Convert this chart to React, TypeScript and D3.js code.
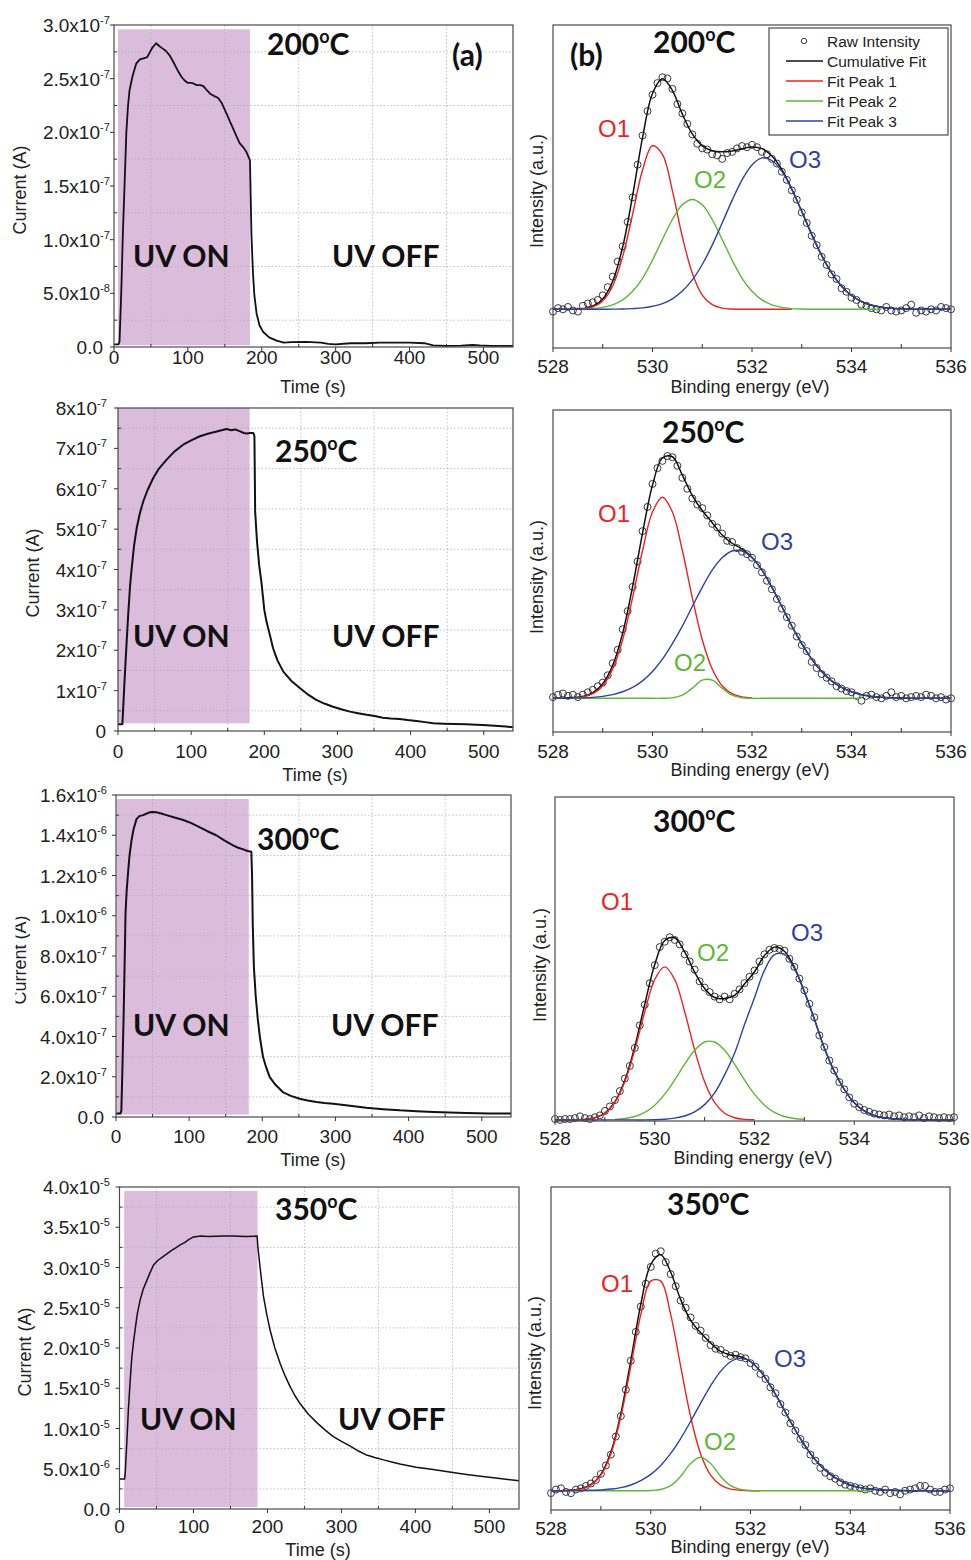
import * as d3 from "d3";

const SANS = "'Liberation Sans', Arial, sans-serif";
const BOLD = "Lato, 'Open Sans', sans-serif";

// ---------- (a) photocurrent transients, time in s ----------
const time200 = [0, 6, 7.5, 10, 12, 14.5, 16.7, 19, 21, 25, 30, 35, 40, 45, 48, 52, 57, 62, 66, 70, 75, 80, 86, 91, 96, 100, 106, 112, 117, 121, 126, 130, 135, 141, 146, 152, 157, 161, 166, 170, 175, 179, 184, 185, 186, 188, 190, 193, 197, 202, 210, 220, 230, 240, 260, 280, 290, 300, 320, 340, 360, 380, 400, 420, 432, 450, 470, 485, 495, 510, 540];
// x1e-7 A
const current200 = [0.025, 0.025, 0.05, 0.55, 1.05, 1.55, 2.0, 2.25, 2.39, 2.52, 2.64, 2.68, 2.69, 2.7, 2.74, 2.79, 2.83, 2.8, 2.78, 2.76, 2.72, 2.66, 2.58, 2.52, 2.48, 2.46, 2.46, 2.44, 2.44, 2.43, 2.39, 2.36, 2.34, 2.32, 2.27, 2.18, 2.1, 2.04, 1.96, 1.9, 1.86, 1.82, 1.74, 1.4, 1.05, 0.7, 0.48, 0.31, 0.2, 0.14, 0.09, 0.06, 0.04, 0.045, 0.047, 0.04, 0.03, 0.025, 0.035, 0.035, 0.04, 0.04, 0.04, 0.035, 0.015, 0.01, 0.012, 0.02, 0.015, 0.01, 0.01];

const time250 = [0, 5, 6, 8, 10, 11.8, 14, 16.5, 18.7, 22, 25.5, 30, 34.6, 40, 48, 56, 66.5, 77, 89, 100, 112, 124, 135, 148, 155, 160, 167, 172, 176, 181, 185, 186.5, 187.5, 190, 193, 196, 200, 203, 208, 212, 218, 226, 237, 249, 260, 271, 282, 294, 305, 317, 328, 340, 351, 362, 373, 385, 396, 408, 420, 431, 445, 460, 476, 490, 499, 515, 530, 540];
// x1e-7 A
const current250 = [0.165, 0.165, 0.17, 0.9, 1.6, 2.2, 2.9, 3.6, 4.03, 4.6, 5.02, 5.4, 5.69, 5.95, 6.26, 6.5, 6.72, 6.92, 7.09, 7.2, 7.3, 7.37, 7.42, 7.48, 7.45, 7.47, 7.42, 7.38, 7.37, 7.38, 7.38, 7.3, 5.44, 4.7, 4.1, 3.7, 3.0, 2.71, 2.35, 2.05, 1.75, 1.47, 1.24, 1.06, 0.9, 0.77, 0.68, 0.6, 0.54, 0.48, 0.44, 0.4, 0.37, 0.33, 0.31, 0.3, 0.27, 0.25, 0.22, 0.19, 0.18, 0.175, 0.165, 0.155, 0.15, 0.13, 0.11, 0.09];

const time300 = [0, 6, 7.3, 8.5, 10.5, 12, 13, 14.5, 16.4, 18.5, 21, 24, 28, 32, 37, 42, 46, 50, 55, 62, 69, 80, 92, 103, 114, 125, 137, 148, 160, 167, 174, 180, 185, 186, 187, 188.5, 191, 194, 197, 201, 205, 210, 218, 228, 239, 251, 262, 274, 285, 297, 320, 342, 365, 388, 411, 434, 456, 479, 510, 540];
// x1e-7 A
const current300 = [0.17, 0.17, 0.3, 2.0, 5.14, 8.0, 10.1, 11.2, 12.1, 13.0, 13.7, 14.3, 14.8, 14.95, 15.0, 15.08, 15.14, 15.15, 15.14, 15.08, 15.0, 14.88, 14.76, 14.6, 14.4, 14.2, 14.0, 13.75, 13.5, 13.38, 13.3, 13.22, 13.18, 12.0, 9.5, 7.46, 6.0, 4.8, 3.9, 2.98, 2.5, 1.99, 1.6, 1.24, 1.05, 0.91, 0.82, 0.75, 0.7, 0.66, 0.56, 0.46, 0.39, 0.33, 0.29, 0.25, 0.22, 0.2, 0.18, 0.17];

const time350 = [0, 6.8, 7.5, 8, 10, 12, 14.5, 16.7, 19, 21, 24, 28, 32, 37, 41, 46, 52, 58, 64, 70, 76, 82, 88, 94, 100, 110, 120, 140, 154, 170, 186, 187, 190, 194.6, 199, 203.6, 210, 217, 224, 230.6, 237, 244, 255, 267, 278, 289, 300, 312, 323, 334, 345, 357, 368, 379, 401, 424, 446, 469, 491, 514, 540];
// x1e-5 A
const current350 = [0.372, 0.372, 0.42, 0.49, 0.85, 1.23, 1.6, 1.89, 2.08, 2.22, 2.42, 2.6, 2.73, 2.84, 2.93, 3.03, 3.09, 3.13, 3.17, 3.21, 3.245, 3.28, 3.31, 3.35, 3.38, 3.39, 3.385, 3.39, 3.39, 3.385, 3.39, 3.26, 3.0, 2.64, 2.42, 2.22, 2.0, 1.81, 1.65, 1.52, 1.41, 1.31, 1.18, 1.07, 0.98, 0.9, 0.84, 0.78, 0.72, 0.67, 0.64, 0.61, 0.585, 0.56, 0.52, 0.49, 0.46, 0.43, 0.405, 0.38, 0.35];

// UV ON window: [t start, t end, current low, current high]
const uv200 = [5.4, 184, 0.016, 2.96];
const uv250 = [0, 180, 0.19, 8];
const uv300 = [1, 181.5, 0.12, 15.8];
const uv350 = [6.3, 186.5, 0.025, 3.95];

const timeTicks = [0, 100, 200, 300, 400, 500];
const timeMinor = [50, 150, 250, 350, 450];

// [value, mantissa, exponent]
const yTicks200 = [[0, "0.0", ""], [0.5, "5.0x10", "-8"], [1, "1.0x10", "-7"], [1.5, "1.5x10", "-7"], [2, "2.0x10", "-7"], [2.5, "2.5x10", "-7"], [3, "3.0x10", "-7"]];
const yMinor200 = [0.25, 0.75, 1.25, 1.75, 2.25, 2.75];
const yTicks250 = [[0, "0", ""], [1, "1x10", "-7"], [2, "2x10", "-7"], [3, "3x10", "-7"], [4, "4x10", "-7"], [5, "5x10", "-7"], [6, "6x10", "-7"], [7, "7x10", "-7"], [8, "8x10", "-7"]];
const yMinor250 = [0.5, 1.5, 2.5, 3.5, 4.5, 5.5, 6.5, 7.5];
const yTicks300 = [[0, "0.0", ""], [2, "2.0x10", "-7"], [4, "4.0x10", "-7"], [6, "6.0x10", "-7"], [8, "8.0x10", "-7"], [10, "1.0x10", "-6"], [12, "1.2x10", "-6"], [14, "1.4x10", "-6"], [16, "1.6x10", "-6"]];
const yMinor300 = [1, 3, 5, 7, 9, 11, 13, 15];
const yTicks350 = [[0, "0.0", ""], [0.5, "5.0x10", "-6"], [1, "1.0x10", "-5"], [1.5, "1.5x10", "-5"], [2, "2.0x10", "-5"], [2.5, "2.5x10", "-5"], [3, "3.0x10", "-5"], [3.5, "3.5x10", "-5"], [4, "4.0x10", "-5"]];
const yMinor350 = [0.25, 0.75, 1.25, 1.75, 2.25, 2.75, 3.25, 3.75];

// ---------- (b) O 1s XPS ----------
const fitEnergy = [528.0, 528.2, 528.4, 528.6, 528.8, 529.0, 529.2, 529.4, 529.6, 529.8, 530.0, 530.2, 530.4, 530.6, 530.8, 531.0, 531.2, 531.4, 531.6, 531.8, 532.0, 532.2, 532.4, 532.6, 532.8, 533.0, 533.2, 533.4, 533.6, 533.8, 534.0, 534.2, 534.4, 534.6, 534.8, 535.0, 535.2, 535.4, 535.6, 535.8, 536.0];
const rawEnergy = [528.0, 528.1, 528.2, 528.3, 528.4, 528.5, 528.6, 528.7, 528.8, 528.9, 529.0, 529.1, 529.2, 529.3, 529.4, 529.5, 529.6, 529.7, 529.8, 529.9, 530.0, 530.1, 530.2, 530.3, 530.4, 530.5, 530.6, 530.7, 530.8, 530.9, 531.0, 531.1, 531.2, 531.3, 531.4, 531.5, 531.6, 531.7, 531.8, 531.9, 532.0, 532.1, 532.2, 532.3, 532.4, 532.5, 532.6, 532.7, 532.8, 532.9, 533.0, 533.1, 533.2, 533.3, 533.4, 533.5, 533.6, 533.7, 533.8, 533.9, 534.0, 534.1, 534.2, 534.3, 534.4, 534.5, 534.6, 534.7, 534.8, 534.9, 535.0, 535.1, 535.2, 535.3, 535.4, 535.5, 535.6, 535.7, 535.8, 535.9, 536.0];

const raw200 = [-1.0, 0.5, 0.0, 1.0, -0.5, -1.0, 1.5, 2.5, 3.0, 4.0, 6.0, 9.5, 14.0, 20.5, 27.0, 37.5, 48.0, 62.0, 74.5, 85.0, 92.0, 97.0, 99.5, 99.0, 94.5, 88.0, 84.0, 79.5, 75.0, 71.0, 69.0, 68.5, 66.5, 66.0, 64.5, 67.0, 67.5, 69.0, 70.0, 69.5, 70.5, 69.5, 67.5, 66.5, 64.5, 62.5, 59.0, 55.5, 51.0, 47.0, 41.5, 37.0, 31.5, 27.5, 22.5, 19.0, 15.0, 13.0, 9.0, 7.5, 5.0, 4.0, 2.0, 1.5, 0.5, 0.0, -0.5, 1.0, -0.5, -1.0, -0.5, 0.5, 2.0, -1.5, -0.5, -1.0, 0.0, -0.5, 1.0, 0.5, 0.0];
const cum200 = [0, 0, 0, 0.3, 1.3, 4.4, 12.0, 26.7, 48.7, 73.6, 92.5, 98.8, 93.8, 83.7, 75.2, 70.1, 68.0, 67.5, 67.9, 68.8, 69.6, 68.9, 65.7, 59.9, 51.6, 42.0, 32.1, 23.1, 15.6, 9.9, 5.9, 3.3, 1.7, 0.9, 0.4, 0.2, 0.1, 0, 0, 0, 0];
const peak1_200 = [null, null, 0, 0.2, 1.0, 3.6, 10.0, 22.6, 40.7, 59.7, 70.1, 66.4, 50.8, 31.1, 15.5, 6.1, 2.0, 0.5, 0.1, 0, 0, 0, 0, 0, 0];
const peak2_200 = [null, null, null, 0.1, 0.3, 0.8, 1.9, 4.0, 7.7, 13.3, 21.1, 30.0, 38.5, 44.8, 47.1, 44.8, 38.5, 30.0, 21.1, 13.3, 7.7, 4.0, 1.9, 0.8, 0.3, 0.1, 0, 0, 0, 0, 0, 0, 0, 0];
const peak3_200 = [0, 0, 0, 0, 0, 0, 0.05, 0.1, 0.3, 0.6, 1.3, 2.4, 4.5, 7.8, 12.6, 19.2, 27.5, 37.0, 46.7, 55.5, 61.9, 64.9, 63.8, 59.1, 51.3, 41.9, 32.1, 23.1, 15.6, 9.9, 5.9, 3.3, 1.7, 0.9, 0.4, 0.2, 0.1, 0, 0, 0, 0];

const raw250 = [0.5, 1.5, 2.0, 1.0, 1.5, 0.5, 1.5, 2.5, 3.5, 5.0, 6.5, 9.5, 14.5, 20.0, 28.5, 36.0, 46.0, 56.5, 69.0, 79.0, 88.5, 95.0, 98.0, 100.0, 99.5, 96.0, 91.0, 86.5, 82.5, 80.0, 78.5, 75.5, 72.0, 70.5, 68.0, 65.0, 64.5, 62.0, 60.5, 59.5, 58.0, 55.0, 52.0, 48.5, 45.0, 41.0, 37.0, 33.5, 30.0, 25.5, 22.0, 19.5, 15.0, 12.5, 10.0, 8.5, 7.0, 5.0, 4.0, 3.0, 2.5, 1.0, -1.0, 1.0, 1.5, 0.5, 0.0, 1.0, 2.5, 0.5, 1.0, 0.0, 0.5, 1.0, 0.5, 1.5, 1.0, 0.0, 0.5, -0.5, 0.0];
const cum250 = [0, 0.05, 0.3, 0.8, 2.3, 6.0, 13.6, 26.9, 46.1, 68.2, 88.0, 99.2, 99.7, 92.1, 83.7, 77.5, 72.5, 67.4, 64.0, 61.6, 58.2, 52.9, 45.8, 37.9, 29.8, 22.6, 16.2, 11.1, 7.2, 4.5, 2.7, 1.5, 0.8, 0.4, 0.2, 0.1, 0, 0, 0, 0, 0];
const peak1_250 = [null, null, 0.2, 0.6, 1.9, 5.2, 12.1, 24.2, 41.6, 61.0, 76.9, 83.0, 76.9, 61.0, 41.6, 24.2, 12.1, 5.2, 1.9, 0.6, 0.2];
const peak2_250 = [null, null, 0, 0, 0, 0, 0, 0, 0, 0, 0, 0, 0.2, 1.3, 4.2, 7.5, 7.5, 4.2, 1.3, 0.2, 0, 0, 0, 0, 0, 0, 0, 0, 0, 0, 0, 0];
const peak3_250 = [0, 0.05, 0.1, 0.2, 0.4, 0.8, 1.5, 2.7, 4.5, 7.2, 11.1, 16.2, 22.6, 29.8, 37.9, 45.8, 52.9, 58.0, 60.8, 60.8, 58.0, 52.9, 45.8, 37.9, 29.8, 22.6, 16.2, 11.1, 7.2, 4.5, 2.7, 1.5, 0.8, 0.4, 0.2, 0.1, 0, 0, 0, 0, 0];

const raw300 = [0.5, 0.0, 0.5, 0.5, 1.0, 2.0, 1.0, 0.5, 1.5, 2.5, 5.0, 7.5, 11.0, 16.0, 23.0, 30.0, 40.0, 52.5, 64.0, 76.0, 86.0, 96.0, 99.0, 101.5, 100.0, 97.5, 92.0, 88.0, 83.5, 77.0, 73.5, 71.0, 68.5, 67.0, 68.5, 67.0, 70.0, 72.5, 76.0, 79.5, 83.0, 88.0, 92.0, 94.5, 95.5, 95.0, 94.0, 89.5, 85.0, 78.5, 72.0, 64.5, 57.0, 47.0, 40.5, 33.0, 27.5, 21.0, 17.0, 12.5, 9.0, 7.0, 5.5, 4.5, 3.5, 3.0, 2.5, 3.0, 2.0, 2.5, 1.5, 2.0, 1.5, 2.5, 1.0, 2.0, 1.5, 1.0, 1.5, 1.0, 1.5];
const cum300 = [0, 0, 0.1, 0.3, 1.2, 3.8, 10.0, 22.0, 40.8, 64.3, 86.3, 99.7, 101.2, 93.3, 82.1, 73.0, 68.0, 67.4, 69.2, 75.5, 82.3, 91.3, 96.0, 93.7, 84.8, 71.3, 56.1, 40.0, 27.0, 17.0, 9.5, 5.0, 2.5, 1.2, 0.5, 0.2, 0.1, 0, 0, 0, 0];
const peak1_300 = [0, 0, 0.1, 0.3, 1.2, 3.7, 9.7, 21.2, 38.9, 60.1, 78.0, 85.0, 78.0, 60.1, 38.9, 21.2, 9.7, 3.7, 1.2, 0.3, 0.1];
const peak2_300 = [null, null, null, null, null, null, 0.3, 0.8, 1.9, 4.2, 8.2, 14.3, 22.2, 31.0, 38.7, 43.3, 43.3, 38.7, 31.0, 22.2, 14.3, 8.2, 4.2, 1.9, 0.8, 0.3];
const peak3_300 = [0, 0, 0, 0, 0, 0, 0, 0, 0, 0, 0.1, 0.4, 1.0, 2.2, 4.5, 8.5, 15, 25, 37, 53, 67.9, 83.1, 91.8, 91.8, 84, 71, 56, 40, 27, 17, 9.5, 5, 2.5, 1.2, 0.5, 0.2, 0.1, 0, 0, 0, 0];

const raw350 = [-1.0, 0.5, 1.0, -0.5, -1.0, 0.5, 1.0, 2.0, 3.0, 4.5, 7.0, 10.5, 15.0, 22.5, 31.0, 42.0, 54.0, 66.0, 76.5, 86.0, 93.0, 98.5, 99.5, 95.0, 90.0, 85.0, 79.0, 76.0, 72.0, 68.5, 66.5, 63.5, 60.5, 59.0, 58.5, 57.0, 56.0, 56.5, 55.5, 55.0, 53.0, 51.5, 48.5, 46.5, 43.0, 40.5, 36.0, 32.5, 28.0, 25.0, 21.5, 19.0, 15.0, 12.5, 9.5, 7.5, 6.0, 5.0, 3.5, 2.5, 2.0, 1.5, 1.0, 0.5, 1.0, 0.0, -0.5, 0.5, -1.0, -0.5, -1.5, 0.0, 0.5, 1.0, 2.0, 2.0, 0.5, -0.5, -0.5, 0.5, 1.0];
const cum350 = [0, 0, 0.2, 0.8, 2.5, 6.8, 16.0, 32.0, 54.1, 77.4, 94.0, 98.1, 90.8, 79.4, 70.8, 65.6, 61.4, 57.9, 56.4, 55.7, 53.7, 49.6, 43.6, 36.4, 28.8, 21.7, 15.5, 10.5, 6.8, 4.2, 2.4, 1.3, 0.7, 0.3, 0.2, 0.1, 0, 0, 0, 0, 0];
const peak1_350 = [0, 0, 0.2, 0.7, 2.3, 6.5, 15.3, 30.7, 51.7, 73.2, 87.1, 87.1, 73.2, 51.7, 30.7, 15.3, 6.5, 2.3, 0.7, 0.2, 0, 0];
const peak2_350 = [null, null, 0, 0, 0, 0, 0, 0, 0, 0, 0.1, 0.5, 2.1, 6.0, 11.3, 13.9, 11.3, 6.0, 2.1, 0.5, 0.1, 0, 0, 0, 0, 0, 0, 0, 0, 0, 0, 0, 0];
const peak3_350 = [0, 0, 0, 0.1, 0.2, 0.3, 0.7, 1.3, 2.4, 4.2, 6.8, 10.5, 15.5, 21.7, 28.8, 36.4, 43.6, 49.6, 53.6, 55.0, 53.6, 49.6, 43.6, 36.4, 28.8, 21.7, 15.5, 10.5, 6.8, 4.2, 2.4, 1.3, 0.7, 0.3, 0.2, 0.1, 0, 0, 0, 0, 0];

const energyTicks = [528, 530, 532, 534, 536];
const energyMinor = [529, 531, 533, 535];

const C_RED = "#ee2222";
const C_GREEN = "#5cb833";
const C_BLUE = "#2e42a2";

const timePanels = [
  { key: "200", time: time200, cur: current200, yMax: 3, ticks: yTicks200, minor: yMinor200, uv: uv200,
    l: 114, t: 25, r: 513, b: 347, mainEnd: 100, plainEnd: 103, xLab: 364, xTitle: [313, 393], yTitle: [20.5, 190],
    temp: [267, 55], on: [133, 267], off: [332, 267], tag: true, lw: 1.8, clip: false },
  { key: "250", time: time250, cur: current250, yMax: 8, ticks: yTicks250, minor: yMinor250, uv: uv250,
    l: 118, t: 408, r: 513, b: 731, mainEnd: 97, plainEnd: 106, xLab: 758, xTitle: [315, 781], yTitle: [34, 573],
    temp: [275, 462], on: [133, 647], off: [332, 647], tag: false, lw: 2, clip: false },
  { key: "300", time: time300, cur: current300, yMax: 16, ticks: yTicks300, minor: yMinor300, uv: uv300,
    l: 116, t: 795, r: 511, b: 1117, mainEnd: 97, plainEnd: 104, xLab: 1143, xTitle: [313, 1166], yTitle: [20.5, 960],
    temp: [257, 850], on: [133, 1036], off: [331, 1036], tag: false, lw: 2, clip: true },
  { key: "350", time: time350, cur: current350, yMax: 4, ticks: yTicks350, minor: yMinor350, uv: uv350,
    l: 119.5, t: 1187, r: 519, b: 1509, mainEnd: 100, plainEnd: 110, xLab: 1533, xTitle: [318, 1556], yTitle: [26, 1352],
    temp: [275, 1220], on: [140, 1430], off: [338, 1430], tag: false, lw: 1.5, clip: false },
];

const xpsPanels = [
  { key: "200", raw: raw200, cum: cum200, p1: peak1_200, p2: peak2_200, p3: peak3_200, yDom: [-16.6, 121.9],
    l: 553, t: 25, r: 951, b: 348, xLab: 373, xTitle: [750, 393], yTitle: [537.5, 191],
    temp: [653, 53], o1: [614, 137], o2: [710, 188], o3: [805, 168], legend: true },
  { key: "250", raw: raw250, cum: cum250, p1: peak1_250, p2: peak2_250, p3: peak3_250, yDom: [-13.9, 119],
    l: 553, t: 410, r: 951, b: 732, xLab: 758, xTitle: [750, 776], yTitle: [537.5, 577],
    temp: [662, 443], o1: [614, 522], o2: [690, 671], o3: [777, 550], legend: false },
  { key: "300", raw: raw300, cum: cum300, p1: peak1_300, p2: peak2_300, p3: peak3_300, yDom: [-0.6, 179.4],
    l: 555, t: 797, r: 954, b: 1121, xLab: 1145, xTitle: [753, 1164], yTitle: [540.5, 965],
    temp: [653, 832], o1: [617, 910], o2: [713, 961], o3: [807, 941], legend: false },
  { key: "350", raw: raw350, cum: cum350, p1: peak1_350, p2: peak2_350, p3: peak3_350, yDom: [-8.0, 126.2],
    l: 551, t: 1187, r: 950, b: 1510, xLab: 1535, xTitle: [750, 1553], yTitle: [535.5, 1353],
    temp: [667, 1215], o1: [617, 1292], o2: [720, 1450], o3: [790, 1367], legend: false },
];

function TempLabel({ x, y, text }: { x: number; y: number; text: string }) {
  return (
    <text x={x} y={y} fontFamily={BOLD} fontWeight={700} fontSize={30} fill="#111">
      {text}
      <tspan dy={-12} fontSize={18}>o</tspan>
      <tspan dy={12}>C</tspan>
    </text>
  );
}

function TimePanel({ p }: { p: any }) {
  const x = d3.scaleLinear().domain([0, 540]).range([p.l, p.r]);
  const y = d3.scaleLinear().domain([0, p.yMax]).range([p.b, p.t]);
  const pts = d3.zip(p.time, p.cur) as [number, number][];
  const path = d3.line<[number, number]>().x((d) => x(d[0])).y((d) => y(d[1]))(pts) || "";
  const grid = { stroke: "#b0b0b0", strokeWidth: 0.8, strokeDasharray: "1.5 2" };
  return (
    <g>
      <rect x={x(p.uv[0])} y={y(p.uv[3])} width={x(p.uv[1]) - x(p.uv[0])} height={y(p.uv[2]) - y(p.uv[3])} fill="#dbbddb" />
      {timeMinor.map((v) => (
        <line key={"gx" + v} x1={x(v)} x2={x(v)} y1={p.t} y2={p.b} {...grid} />
      ))}
      {p.minor.map((v: number) => (
        <line key={"gy" + v} x1={p.l} x2={p.r} y1={y(v)} y2={y(v)} {...grid} />
      ))}
      <path d={path} fill="none" stroke="#141014" strokeWidth={p.lw} strokeLinejoin="round" />
      <rect x={p.l} y={p.t} width={p.r - p.l} height={p.b - p.t} fill="none" stroke="#4a4a4a" strokeWidth={1.2} />
      {timeTicks.map((v) => (
        <g key={"tx" + v}>
          <line x1={x(v)} x2={x(v)} y1={p.b} y2={p.b + 4} stroke="#333" />
          <text x={x(v)} y={p.xLab} textAnchor="middle" fontFamily={SANS} fontSize={19} fill="#222">{v}</text>
        </g>
      ))}
      {timeMinor.map((v) => (
        <line key={"mx" + v} x1={x(v)} x2={x(v)} y1={p.b} y2={p.b - 3} stroke="#333" />
      ))}
      {p.minor.map((v: number) => (
        <line key={"my" + v} x1={p.l} x2={p.l + 3} y1={y(v)} y2={y(v)} stroke="#333" />
      ))}
      {p.ticks.map((tk: any) => (
        <g key={"ty" + tk[0]}>
          <line x1={p.l - 4} x2={p.l} y1={y(tk[0])} y2={y(tk[0])} stroke="#333" />
          {tk[2] ? (
            <>
              <text x={p.mainEnd} y={y(tk[0]) + 7} textAnchor="end" fontFamily={SANS} fontSize={19} fill="#222">{tk[1]}</text>
              <text x={p.mainEnd} y={y(tk[0]) - 1} fontFamily={SANS} fontSize={11} fill="#222">{tk[2]}</text>
            </>
          ) : (
            <text x={p.plainEnd} y={y(tk[0]) + 7} textAnchor="end" fontFamily={SANS} fontSize={19} fill="#222">{tk[1]}</text>
          )}
        </g>
      ))}
      <text x={p.xTitle[0]} y={p.xTitle[1]} textAnchor="middle" fontFamily={SANS} fontSize={18} fill="#222">Time (s)</text>
      <g clipPath={p.clip ? "url(#cutTitle)" : undefined}>
        <text
          transform={`translate(${p.yTitle[0] + 5},${p.yTitle[1]}) rotate(-90)`}
          textAnchor="middle" fontFamily={SANS} fontSize={18} fill="#222"
        >
          Current (A)
        </text>
      </g>
      <TempLabel x={p.temp[0]} y={p.temp[1]} text={p.key} />
      <text x={p.on[0]} y={p.on[1]} fontFamily={BOLD} fontWeight={700} fontSize={30} fill="#111">UV ON</text>
      <text x={p.off[0]} y={p.off[1]} fontFamily={BOLD} fontWeight={700} fontSize={30} fill="#111">UV OFF</text>
      {p.tag && <text x={452} y={66} fontFamily={BOLD} fontWeight={700} fontSize={30} fill="#111">(a)</text>}
    </g>
  );
}

function XpsPanel({ p }: { p: any }) {
  const x = d3.scaleLinear().domain([528, 536]).range([p.l, p.r]);
  const y = d3.scaleLinear().domain(p.yDom).range([p.b, p.t]);
  const line = d3
    .line<[number, number | null | undefined]>()
    .defined((d) => d[1] !== null && d[1] !== undefined)
    .x((d) => x(d[0]))
    .y((d) => y(d[1] as number))
    .curve(d3.curveCatmullRom.alpha(0.5));
  const fit = (vals: (number | null)[]) => line(fitEnergy.map((e, i) => [e, vals[i]] as [number, number | null | undefined])) || "";
  return (
    <g>
      {rawEnergy.map((e, i) => (
        <circle key={"r" + i} cx={x(e)} cy={y(p.raw[i])} r={3.5} fill="none" stroke="#222" strokeWidth={0.9} />
      ))}
      <path d={fit(p.cum)} fill="none" stroke="#111" strokeWidth={1.5} />
      <path d={fit(p.p1)} fill="none" stroke={C_RED} strokeWidth={1.4} />
      <path d={fit(p.p2)} fill="none" stroke={C_GREEN} strokeWidth={1.4} />
      <path d={fit(p.p3)} fill="none" stroke={C_BLUE} strokeWidth={1.4} />
      <rect x={p.l} y={p.t} width={p.r - p.l} height={p.b - p.t} fill="none" stroke="#4a4a4a" strokeWidth={1.2} />
      {energyTicks.map((v) => (
        <g key={"ex" + v}>
          <line x1={x(v)} x2={x(v)} y1={p.b} y2={p.b + 4} stroke="#333" />
          <text x={x(v)} y={p.xLab} textAnchor="middle" fontFamily={SANS} fontSize={19} fill="#222">{v}</text>
        </g>
      ))}
      {energyMinor.map((v) => (
        <line key={"em" + v} x1={x(v)} x2={x(v)} y1={p.b} y2={p.b - 4} stroke="#333" />
      ))}
      <text x={p.xTitle[0]} y={p.xTitle[1]} textAnchor="middle" fontFamily={SANS} fontSize={18} fill="#222">Binding energy (eV)</text>
      <text transform={`translate(${p.yTitle[0] + 5},${p.yTitle[1]}) rotate(-90)`} textAnchor="middle" fontFamily={SANS} fontSize={18} fill="#222">
        Intensity (a.u.)
      </text>
      <TempLabel x={p.temp[0]} y={p.temp[1]} text={p.key} />
      <text x={p.o1[0]} y={p.o1[1]} textAnchor="middle" fontFamily={SANS} fontSize={24} fill={C_RED}>O1</text>
      <text x={p.o2[0]} y={p.o2[1]} textAnchor="middle" fontFamily={SANS} fontSize={24} fill={C_GREEN}>O2</text>
      <text x={p.o3[0]} y={p.o3[1]} textAnchor="middle" fontFamily={SANS} fontSize={24} fill={C_BLUE}>O3</text>
      {p.legend && <Legend />}
      {p.legend && <text x={570} y={66} fontFamily={BOLD} fontWeight={700} fontSize={30} fill="#111">(b)</text>}
    </g>
  );
}

const legendItems = [
  { label: "Raw Intensity", color: "#222", kind: "circle" },
  { label: "Cumulative Fit", color: "#111", kind: "line" },
  { label: "Fit Peak 1", color: C_RED, kind: "line" },
  { label: "Fit Peak 2", color: C_GREEN, kind: "line" },
  { label: "Fit Peak 3", color: C_BLUE, kind: "line" },
];

function Legend() {
  const rows = d3.scalePoint<string>().domain(legendItems.map((d) => d.label)).range([41, 121]);
  return (
    <g>
      <rect x={769} y={28} width={179} height={107} fill="#fff" stroke="#4a4a4a" strokeWidth={1.2} />
      {legendItems.map((d) => {
        const cy = rows(d.label) || 0;
        return (
          <g key={d.label}>
            {d.kind === "circle" ? (
              <circle cx={804} cy={cy} r={2.7} fill="none" stroke={d.color} strokeWidth={0.9} />
            ) : (
              <line x1={786} x2={823} y1={cy} y2={cy} stroke={d.color} strokeWidth={1.5} />
            )}
            <text x={827} y={cy + 5.5} fontFamily={SANS} fontSize={15.5} fill="#222">{d.label}</text>
          </g>
        );
      })}
    </g>
  );
}

export default function App() {
  return (
    <svg width={971} height={1560} style={{ position: "absolute", left: 0, top: 0, background: "#fff" }}>
      <defs>
        <clipPath id="cutTitle">
          <rect x={15.5} y={800} width={40} height={320} />
        </clipPath>
      </defs>
      {timePanels.map((p) => (
        <TimePanel key={"a" + p.key} p={p} />
      ))}
      {xpsPanels.map((p) => (
        <XpsPanel key={"b" + p.key} p={p} />
      ))}
    </svg>
  );
}
